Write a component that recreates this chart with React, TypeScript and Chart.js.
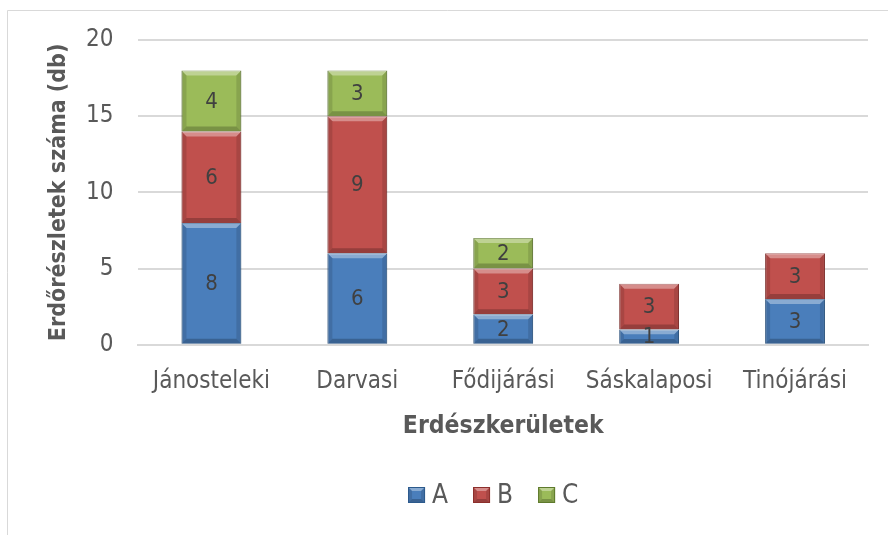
import React, { useEffect, useRef } from "react";
import { Chart, registerables } from "chart.js";

Chart.register(...registerables);

const categories = ["Jánosteleki", "Darvasi", "Fődijárási", "Sáskalaposi", "Tinójárási"];
const seriesA = [8, 6, 2, 1, 3];
const seriesB = [6, 9, 3, 3, 3];
const seriesC = [4, 3, 2, 0, 0];
const seriesNames = ["A", "B", "C"];
const yTitle = "Erdőrészletek száma (db)";
const xTitle = "Erdészkerületek";

const FONT = "'DejaVu Sans Condensed', 'Liberation Sans', sans-serif";

function bevelRect(ctx: CanvasRenderingContext2D, l: number, t: number, r: number, b: number, bvMax: number) {
  const h = b - t;
  const bv = Math.min(bvMax, h / 3);
  ctx.fillStyle = "rgba(255,255,255,0.35)";
  ctx.beginPath();
  ctx.moveTo(l, t);
  ctx.lineTo(r, t);
  ctx.lineTo(r - bv, t + bv);
  ctx.lineTo(l + bv, t + bv);
  ctx.closePath();
  ctx.fill();
  ctx.fillStyle = "rgba(0,0,0,0.12)";
  ctx.beginPath();
  ctx.moveTo(l, t);
  ctx.lineTo(l + bv, t + bv);
  ctx.lineTo(l + bv, b - bv);
  ctx.lineTo(l, b);
  ctx.closePath();
  ctx.fill();
  ctx.beginPath();
  ctx.moveTo(r, t);
  ctx.lineTo(r - bv, t + bv);
  ctx.lineTo(r - bv, b - bv);
  ctx.lineTo(r, b);
  ctx.closePath();
  ctx.fill();
  ctx.fillStyle = "rgba(0,0,0,0.22)";
  ctx.beginPath();
  ctx.moveTo(l, b);
  ctx.lineTo(l + bv, b - bv);
  ctx.lineTo(r - bv, b - bv);
  ctx.lineTo(r, b);
  ctx.closePath();
  ctx.fill();
}

const labelPlugin = {
  id: "valueLabels",
  afterDatasetsDraw(chart: any) {
    const ctx = chart.ctx;
    ctx.save();
    ctx.font = `22px ${FONT}`;
    ctx.fillStyle = "#404040";
    ctx.textAlign = "center";
    ctx.textBaseline = "middle";
    chart.data.datasets.forEach((ds: any, i: number) => {
      const meta = chart.getDatasetMeta(i);
      meta.data.forEach((bar: any, j: number) => {
        const v = ds.data[j];
        if (!v) return;
        const { x, y, base } = bar.getProps(["x", "y", "base"], true);
        ctx.fillText(String(v), x, (y + base) / 2 + 1);
      });
    });
    ctx.restore();
  },
};

const bevelPlugin = {
  id: "bevel",
  afterDatasetsDraw(chart: any) {
    const ctx = chart.ctx;
    ctx.save();
    chart.data.datasets.forEach((ds: any, i: number) => {
      const meta = chart.getDatasetMeta(i);
      meta.data.forEach((bar: any, j: number) => {
        const v = ds.data[j];
        if (!v) return;
        const { x, y, base, width } = bar.getProps(["x", "y", "base", "width"], true);
        bevelRect(ctx, x - width / 2, Math.min(y, base), x + width / 2, Math.max(y, base), 5);
      });
    });
    ctx.restore();
  },
};

const legendPlugin = {
  id: "customLegend",
  afterDraw(chart: any) {
    const ctx = chart.ctx;
    const ca = chart.chartArea;
    ctx.save();
    ctx.font = `26px ${FONT}`;
    ctx.textBaseline = "middle";
    ctx.textAlign = "left";
    const boxW = 17;
    const boxH = 16;
    const gap = 7;
    const itemGap = 25;
    const items = chart.data.datasets.map((ds: any) => ({
      label: ds.label,
      color: ds.backgroundColor,
      border: ds.borderColor,
      w: ctx.measureText(ds.label).width,
    }));
    const total = items.reduce((s: number, it: any) => s + boxW + gap + it.w, 0) + itemGap * (items.length - 1);
    const cx = (ca.left + ca.right) / 2 - 10;
    const cy = 495;
    let x = cx - total / 2;
    items.forEach((it: any) => {
      ctx.fillStyle = it.color;
      ctx.fillRect(x, cy - boxH / 2, boxW, boxH);
      bevelRect(ctx, x, cy - boxH / 2, x + boxW, cy + boxH / 2, 4);
      ctx.strokeStyle = it.border;
      ctx.lineWidth = 1;
      ctx.strokeRect(x + 0.5, cy - boxH / 2 + 0.5, boxW - 1, boxH - 1);
      ctx.fillStyle = "#595959";
      ctx.fillText(it.label, x + boxW + gap, cy + 1);
      x += boxW + gap + it.w + itemGap;
    });
    ctx.restore();
  },
};

const framePlugin = {
  id: "frame",
  beforeDraw(chart: any) {
    const ctx = chart.ctx;
    ctx.save();
    ctx.fillStyle = "#ffffff";
    ctx.fillRect(0, 0, chart.width, chart.height);
    ctx.strokeStyle = "#d9d9d9";
    ctx.lineWidth = 1;
    ctx.beginPath();
    ctx.moveTo(7.5, chart.height);
    ctx.lineTo(7.5, 10.5);
    ctx.lineTo(chart.width, 10.5);
    ctx.stroke();
    ctx.restore();
  },
};

export default function App() {
  const ref = useRef<HTMLCanvasElement>(null);
  useEffect(() => {
    const prevMargin = document.body.style.margin;
    document.body.style.margin = "0";
    const chart = new Chart(ref.current!, {
      type: "bar",
      data: {
        labels: categories,
        datasets: [
          { label: seriesNames[0], data: seriesA, backgroundColor: "#4a7ebb", borderColor: "#2c5a8c", borderWidth: 1 },
          { label: seriesNames[1], data: seriesB, backgroundColor: "#c0504d", borderColor: "#8c2f2c", borderWidth: 1 },
          { label: seriesNames[2], data: seriesC, backgroundColor: "#9bbb59", borderColor: "#5e7a2c", borderWidth: 1 },
        ],
      },
      options: {
        animation: false,
        responsive: false,
        maintainAspectRatio: false,
        layout: { padding: { left: 44, top: 40, right: 20, bottom: 94 } },
        datasets: { bar: { categoryPercentage: 0.82, barPercentage: 0.5 } },
        scales: {
          x: {
            stacked: true,
            grid: { display: false },
            border: { display: true, color: "#d9d9d9", width: 2 },
            ticks: { color: "#595959", font: { family: FONT, size: 24 }, padding: 15 },
            title: { display: true, text: xTitle, color: "#595959", font: { family: FONT, size: 24.5, weight: "bold" }, padding: { top: 0, bottom: 0 } },
          },
          y: {
            stacked: true,
            min: 0,
            max: 20,
            ticks: { stepSize: 5, color: "#595959", font: { family: FONT, size: 24 }, padding: 25 },
            grid: { color: "#d9d9d9", lineWidth: 2, drawTicks: false },
            border: { display: false },
            title: { display: true, text: yTitle, color: "#595959", font: { family: FONT, size: 23, weight: "bold", lineHeight: 1 }, padding: { top: 4, bottom: -10 } },
          },
        },
        plugins: {
          legend: { display: false },
          tooltip: { enabled: false },
        },
      },
      plugins: [framePlugin, bevelPlugin, labelPlugin, legendPlugin],
    });
    return () => {
      chart.destroy();
      document.body.style.margin = prevMargin;
    };
  }, []);
  return (
    <div style={{ width: 888, height: 535 }}>
      <canvas ref={ref} width={888} height={535} style={{ display: "block", width: 888, height: 535 }} />
    </div>
  );
}
